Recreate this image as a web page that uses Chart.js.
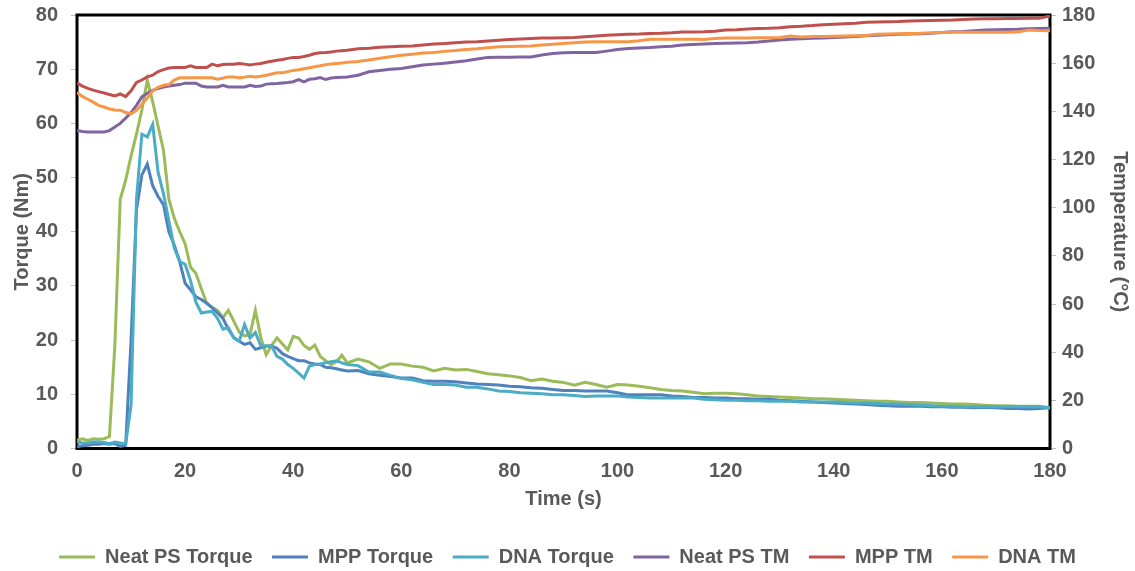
<!DOCTYPE html>
<html>
<head>
<meta charset="utf-8">
<script src="https://cdn.jsdelivr.net/npm/chart.js@4.4.1/dist/chart.umd.min.js"></script>
<style>
  html, body { margin: 0; padding: 0; background: #fff; }
</style>
</head>
<body>
<canvas id="grafikTorsi" width="1135" height="571"></canvas>
<script>
// waktu (s)
const time = [0,1,2,3,4,5,6,7,8,9,10,11,12,13,14,15,16,17,18,19,20,21,22,23,24,25,26,27,28,29,30,31,32,33,34,35,36,37,38,39,40,41,42,43,44,45,46,47,48,49,50,
  52,54,56,58,60,62,64,66,68,70,72,74,76,78,80,82,84,86,88,90,92,94,96,98,100,102,104,106,108,110,112,114,116,118,120,122,124,126,128,130,
  132,134,136,138,140,142,144,146,148,150,152,154,156,158,160,162,164,166,168,170,172,174,176,178,180];

// torque (Nm)
const neatTorque = [1.5,1.8,1.5,1.8,1.7,1.8,2.2,19,46,49.5,54,58,62.5,68,64,59.5,55,46,42.5,40,
  37.8,33.5,32.3,29.5,26.8,26,25.5,24.2,25.5,23.5,21.5,20.8,21,25.5,20.5,17.3,19,20.4,19.3,18.2,
  20.7,20.4,19,18.3,19.1,17,16.2,15.5,16,17.2,15.8,
  16.5,16,14.8,15.6,15.6,15.2,15,14.3,14.8,14.5,14.6,14.2,13.8,13.6,13.4,13.1,12.5,12.8,12.4,12.2,
  11.7,12.2,11.8,11.3,11.8,11.7,11.5,11.2,10.9,10.7,10.6,10.4,10.1,10.2,10.2,10.1,9.9,9.7,9.6,9.5,
  9.4,9.3,9.2,9.2,9.1,9,8.9,8.8,8.7,8.7,8.6,8.5,8.5,8.4,8.3,8.2,8.2,8.1,8,7.9,7.9,7.8,7.8,7.8,7.5];
const mppTorque = [0.3,0.5,0.6,0.8,0.8,0.9,0.8,0.9,0.4,0.6,20,44,50.5,52.5,48.5,46.5,45,40,37.5,34.5,
  30.5,29.3,28,27.5,26.8,26,25,24,22,20.5,19.8,19.2,19.5,18.3,18.6,18.9,18.9,18.5,17.5,17,
  16.6,16.2,16.2,15.8,15.6,15.5,15,14.9,14.7,14.5,14.3,
  14.4,13.8,13.5,13.3,13,13,12.5,12.4,12.4,12.3,12.1,11.9,11.8,11.7,11.5,11.4,11.2,11.1,10.9,10.7,
  10.7,10.6,10.6,10.6,10.3,9.9,9.9,9.9,9.9,9.7,9.6,9.4,9.4,9.3,9.3,9.2,9.2,9.1,9.1,8.9,
  8.8,8.7,8.6,8.5,8.4,8.3,8.2,8.1,8,7.9,7.8,7.8,7.8,7.7,7.7,7.6,7.6,7.5,7.6,7.5,7.4,7.4,7.3,7.4,7.5];
const dnaTorque = [1.2,1.0,1.0,1.2,1.2,1.1,0.9,1.2,1.0,0.8,8,46,58,57.5,59.8,51,47,42,37,34.5,
  34,31,27,25,25.2,25.3,24,22,22.3,20.4,19.8,22.9,20.4,21.4,18.9,18.9,18.9,17,16.5,15.5,
  14.8,13.9,13,15.2,15.5,15.6,15.8,16,16.2,15.8,15.5,
  15.3,14.1,14.1,13.5,12.9,12.7,12.2,11.8,11.8,11.7,11.3,11.3,11,10.6,10.5,10.3,10.2,10.1,9.9,9.9,
  9.8,9.6,9.7,9.7,9.7,9.5,9.4,9.3,9.3,9.3,9.3,9.3,9.1,9,8.9,8.9,8.8,8.8,8.7,8.7,
  8.7,8.6,8.6,8.6,8.6,8.5,8.4,8.4,8.3,8.2,8.2,8.1,8,7.9,7.8,7.8,7.7,7.7,7.7,7.7,7.7,7.7,7.7,7.7,7.5];

// suhu leleh (°C)
const neatTM = [132.1,131.6,131.4,131.4,131.4,131.4,132,133.5,135,137.2,139.5,142.5,146,147.5,148.7,149.5,150.1,150.5,150.8,151.1,
  151.7,151.7,151.7,150.5,150.1,150.1,150.1,150.8,150.1,150.1,150.1,150.1,150.8,150.3,150.5,151.3,151.5,151.6,151.8,152,
  152.3,153.2,152.2,153.3,153.5,154,153.2,153.8,154,154.2,154.3,
  155,156.4,157,157.5,157.8,158.5,159.2,159.6,160,160.5,161,161.7,162.4,162.5,162.5,162.6,162.6,163.4,164,164.3,
  164.4,164.4,164.4,165,165.7,166.1,166.3,166.5,166.8,167,167.5,167.8,168,168.2,168.3,168.4,168.5,168.8,169.2,169.6,
  169.9,170.1,170.3,170.5,170.7,170.9,171.1,171.4,171.6,171.8,172,172.1,172.2,172.4,172.7,173,173.2,173.5,173.8,173.9,
  174,174.1,174.3,174.4,174.5];
const mppTM = [151.8,150.5,149.5,148.8,148.2,147.6,147,146.4,147.2,146.1,148.5,152,153,154.3,155,156.5,157.3,158,158.2,158.2,
  158.2,158.9,158.2,158.2,158.2,159.6,158.9,159.4,159.5,159.6,159.9,159.6,159.2,159.6,159.9,160.4,160.8,161.2,161.5,162,
  162.4,162.4,162.8,163.3,164,164.3,164.4,164.6,165,165.2,165.4,
  166,166.2,166.6,166.8,167,167.1,167.5,168,168.2,168.5,168.8,168.9,169.2,169.5,169.8,170,170.2,170.4,170.5,170.6,
  170.7,171,171.3,171.6,171.8,172,172.1,172.3,172.4,172.6,172.9,172.9,173,173.3,173.8,173.9,174.2,174.4,174.5,174.7,
  175.1,175.3,175.6,176,176.2,176.4,176.6,177,177.1,177.2,177.3,177.5,177.6,177.7,177.8,177.9,178.1,178.3,178.4,178.4,
  178.5,178.5,178.6,178.6,179.6];
const dnaTM = [147.8,146.2,145,143.8,142.5,141.8,141,140.6,140.5,139.5,139,140.4,143,145.5,148.5,150,150.8,151.1,153,153.9,
  153.9,153.9,153.9,153.9,153.9,153.9,153.3,153.8,154.3,154.3,153.9,154.2,154.6,154.3,154.6,155,155.5,156,156,156.5,
  157,157.3,157.7,158.1,158.5,158.9,159.4,159.7,159.9,160.1,160.4,
  160.7,161.3,162,162.7,163.3,163.7,164.2,164.4,164.9,165.3,165.7,166,166.4,166.8,166.9,167,167.1,167.5,167.9,168.2,
  168.5,168.8,168.9,168.9,168.9,168.9,169.3,169.9,169.9,169.9,169.9,169.9,169.8,170.2,170.4,170.4,170.5,170.6,170.6,170.7,
  171.3,170.9,171.1,171.1,171.2,171.3,171.4,171.5,172,172.1,172.2,172.3,172.4,172.6,172.7,172.8,172.8,172.8,172.8,172.8,
  172.8,172.9,173.8,173.6,173.5];

const seriesNames = ["Neat PS Torque", "MPP Torque", "DNA Torque", "Neat PS TM", "MPP TM", "DNA TM"];
const seriesColors = ["#9BBB59", "#4F81BD", "#4BACC6", "#8064A2", "#C0504D", "#F79646"];
const seriesValues = [neatTorque, mppTorque, dnaTorque, neatTM, mppTM, dnaTM];
const seriesAxis = ["y", "y", "y", "y1", "y1", "y1"];

const textColor = "#595959";
const fontBold = { family: "Liberation Sans", weight: "bold", size: 20 };

const bingkai = {
  id: "bingkai",
  beforeDatasetsDraw(chart) {
    const { ctx, chartArea: a } = chart;
    ctx.save();
    ctx.strokeStyle = "#000";
    ctx.lineWidth = 3;
    ctx.strokeRect(a.left, a.top, a.right - a.left, a.bottom - a.top);
    ctx.restore();
  },
};

// lebar sumbu y tetap, tanpa padding otomatis dari label
function fitSumbuY(lebar) {
  return (scale) => {
    scale.width = lebar;
    scale.paddingTop = 0;
    scale.paddingBottom = 0;
  };
}

const ctx = document.getElementById("grafikTorsi").getContext("2d");

new Chart(ctx, {
  type: "line",
  data: {
    datasets: seriesNames.map((name, i) => ({
      label: name,
      data: time.map((t, j) => ({ x: t, y: seriesValues[i][j] })),
      borderColor: seriesColors[i],
      backgroundColor: seriesColors[i],
      borderWidth: 3,
      pointRadius: 0,
      tension: 0,
      yAxisID: seriesAxis[i],
      order: seriesNames.length - i,
    })),
  },
  options: {
    responsive: false,
    animation: false,
    layout: { padding: { top: 15, left: 0, right: 0, bottom: -6 } },
    plugins: {
      tooltip: { enabled: false },
      legend: {
        position: "bottom",
        labels: {
          color: textColor,
          font: fontBold,
          usePointStyle: true,
          pointStyle: "line",
          pointStyleWidth: 36,
          padding: 19.5,
          sort: (a, b) => a.datasetIndex - b.datasetIndex,
        },
      },
    },
    scales: {
      x: {
        type: "linear",
        min: 0,
        max: 180,
        ticks: { stepSize: 20, color: textColor, font: fontBold, padding: 11, maxRotation: 0 },
        grid: { display: true, drawOnChartArea: false, drawTicks: false },
        border: { display: false },
        title: { display: true, text: "Time (s)", color: textColor, font: fontBold, padding: { top: 4, bottom: 16 } },
        afterFit: (scale) => { scale.height = 79; },
      },
      y: {
        position: "left",
        min: 0,
        max: 80,
        ticks: { stepSize: 10, color: textColor, font: fontBold, padding: 13 },
        grid: { drawOnChartArea: false, drawTicks: true, tickLength: 6, color: "#BFBFBF" },
        border: { display: false },
        title: { display: true, text: "Torque (Nm)", color: textColor, font: fontBold, padding: { top: 10, bottom: 0 } },
        afterFit: fitSumbuY(77),
      },
      y1: {
        position: "right",
        min: 0,
        max: 180,
        ticks: { stepSize: 20, color: textColor, font: fontBold, padding: 6 },
        grid: { drawOnChartArea: false, drawTicks: true, tickLength: 6, color: "#BFBFBF" },
        border: { display: false },
        title: { display: true, text: "Temperature (°C)", color: textColor, font: fontBold, padding: { top: 3, bottom: 0 } },
        afterFit: fitSumbuY(85),
      },
    },
  },
  plugins: [bingkai],
});
</script>
</body>
</html>
